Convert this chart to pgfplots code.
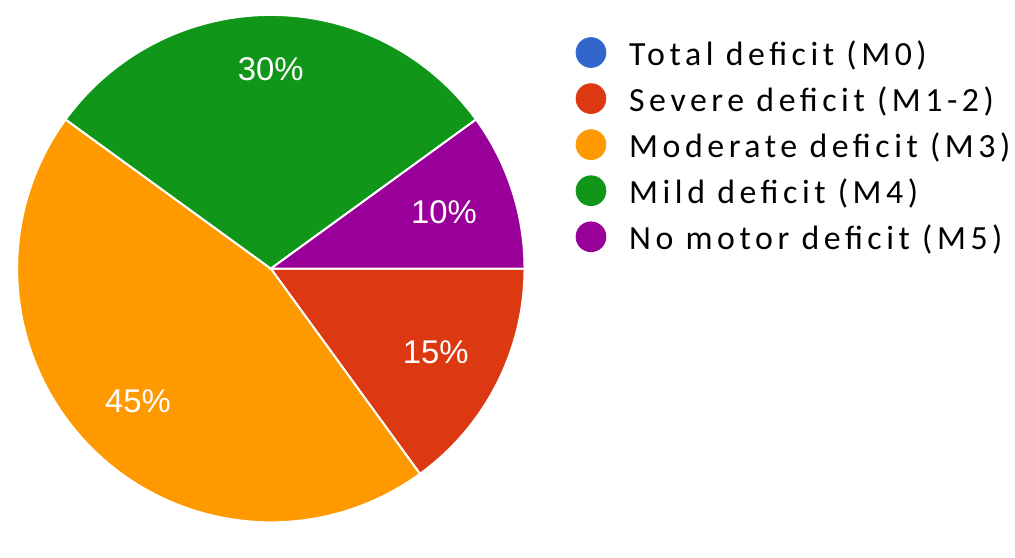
\documentclass[border=0pt]{standalone}
\usepackage{fontspec}
\setmainfont{Liberation Sans}
\newfontfamily\legfont[LetterSpace=13.5]{Carlito}
\usepackage{pgfplots}
\usepackage{pgfplotstable}
\pgfplotsset{compat=1.18}

\definecolor{gblue}{HTML}{3366CC}
\definecolor{gred}{HTML}{DC3912}
\definecolor{gorange}{HTML}{FF9900}
\definecolor{ggreen}{HTML}{109618}
\definecolor{gpurple}{HTML}{990099}

% share in percent, colour, distance of the label from the centre (pt)
\pgfplotstableread{
name     pct col     lr
Total    0   gblue   95
Severe   15  gred    93
Moderate 45  gorange 94.5
Mild     30  ggreen  100
None     10  gpurple 91.5
}\piedata

\begin{document}
\begin{tikzpicture}
\begin{axis}[
    x=0.5pt, y=0.5pt,
    xmin=0, xmax=1015, ymin=0, ymax=527,
    hide axis, clip=false,
    legend image code/.code={\fill[#1] (0pt,3pt) circle (7.5pt);},
    legend style={
        draw=none, fill=none, inner sep=0pt,
        at={(axis cs:573,490)}, anchor=north west,
        font=\legfont\fontsize{17pt}{20pt}\selectfont,
        row sep=3.95pt, column sep=11.5pt,
        nodes={inner sep=0pt, text height=12pt, text depth=5pt},
        cells={anchor=west},
    },
]
\addlegendimage{gblue}
\addlegendentry{Total deficit (M0)}
\addlegendimage{gred}
\addlegendentry{Severe deficit (M1-2)}
\addlegendimage{gorange}
\addlegendentry{Moderate deficit (M3)}
\addlegendimage{ggreen}
\addlegendentry{Mild deficit (M4)}
\addlegendimage{gpurple}
\addlegendentry{No motor deficit (M5)}

\pgfplotsextra{
  \path (axis cs:0,0) rectangle (axis cs:1015,527);
  \def\angA{360}
  \pgfplotsforeachungrouped \i in {0,...,4}{
    \pgfplotstablegetelem{\i}{pct}\of\piedata \let\pct\pgfplotsretval
    \pgfplotstablegetelem{\i}{col}\of\piedata \let\col\pgfplotsretval
    \pgfplotstablegetelem{\i}{lr}\of\piedata \let\lr\pgfplotsretval
    \pgfmathsetmacro\angB{\angA-3.6*\pct}
    \pgfmathsetmacro\angM{(\angA+\angB)/2}
    \ifdim\pct pt>0pt
      \fill[fill=\col, draw=white, line width=1pt] (axis cs:267,257) -- +(\angA:127.5pt)
        arc[start angle=\angA, end angle=\angB, radius=127.5pt] -- cycle;
      \path (axis cs:267,257) ++(\angM:\lr pt)
        node[text=white, font=\fontsize{16.5pt}{19pt}\selectfont, inner sep=0pt] {\pct\%};
    \fi
    \let\angA\angB
  }
}
\end{axis}
\end{tikzpicture}
\end{document}
